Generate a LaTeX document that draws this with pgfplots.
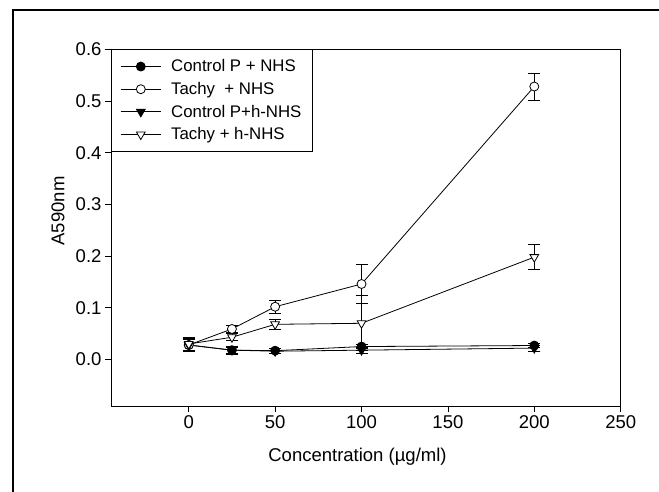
\documentclass[border=0pt]{standalone}
\usepackage{fontspec}
\setmainfont{Liberation Sans}
\usepackage{pgfplots}
\pgfplotsset{compat=1.18}
\begin{document}
\begin{tikzpicture}[x=1pt,y=1pt]
% page frame (left and top sides show)
\useasboundingbox (0,0) rectangle (659,491);
\draw[line width=1.5pt] (13,-5) -- (13,481) -- (665,481);
\begin{axis}[
    at={(111pt,85pt)}, anchor=south west,
    scale only axis,
    width=509.7pt, height=356.7pt,
    xmin=-45, xmax=250,
    ymin=-0.09, ymax=0.6,
    xtick={0,50,...,250},
    ytick={0,0.1,0.2,0.3,0.4,0.5,0.6},
    xtick pos=left, ytick pos=left,
    tick align=outside,
    major tick length=6pt,
    tick style={line width=0.8pt,black},
    axis line style={line width=1pt},
    yticklabel style={/pgf/number format/fixed,/pgf/number format/fixed zerofill,/pgf/number format/precision=1},
    /pgf/number format/assume math mode=true,
    ticklabel style={font=\fontsize{18.5}{20}\selectfont},
    scaled y ticks=false,
    xlabel={Concentration (µg/ml)},
    ylabel={A590nm},
    label style={font=\fontsize{18.5}{20}\selectfont},
    xlabel style={at={(axis description cs:0.4836,-0.108)},anchor=north},
    ylabel style={at={(axis description cs:-0.084,0.547)},anchor=south},
    every axis plot/.append style={line width=0.8pt,black},
    error bars/error bar style={line width=0.8pt,black},
    error bars/error mark options={rotate=90,mark size=6pt,line width=0.8pt,black},
    legend style={at={(0,1)},anchor=north west,draw=black,line width=0.8pt,
        font=\fontsize{16.8}{18}\selectfont,
        inner xsep=9pt,inner ysep=8pt,row sep=5pt,
        /tikz/every even column/.append style={column sep=9pt},
        /tikz/every odd column/.append style={column sep=8pt}},
    legend cell align=left,
    legend image code/.code={
        \draw[mark repeat=2,mark phase=2,#1] plot coordinates {(0pt,0pt) (20pt,0pt) (40pt,0pt)};},
]
% Control P + NHS
\addplot[mark=*,mark size=4.5pt,mark options={fill=black,solid},
    error bars/.cd,y dir=both,y explicit]
    coordinates {(0,0.028) +- (0,0.012) (25,0.018) +- (0,0.008) (50,0.017) +- (0,0.005) (100,0.025) +- (0,0.004) (200,0.027) +- (0,0.004)};
\addlegendentry{Control P + NHS}
% Tachy + NHS
\addplot[mark=*,mark size=4.5pt,mark options={fill=white,solid},
    error bars/.cd,y dir=both,y explicit]
    coordinates {(0,0.028) +- (0,0.013) (25,0.059) +- (0,0.006) (50,0.102) +- (0,0.012) (100,0.146) +- (0,0.037) (200,0.528) +- (0,0.026)};
\addlegendentry{Tachy\ \ + NHS}
% Control P+h-NHS
\addplot[mark=triangle*,mark size=5pt,mark options={fill=black,rotate=180,solid},
    error bars/.cd,y dir=both,y explicit]
    coordinates {(0,0.028) +- (0,0.010) (25,0.018) +- (0,0.006) (50,0.016) +- (0,0.005) (100,0.018) +- (0,0.006) (200,0.022) +- (0,0.006)};
\addlegendentry{Control P+h-NHS}
% Tachy + h-NHS
\addplot[mark=triangle*,mark size=5pt,mark options={fill=white,rotate=180,solid},
    error bars/.cd,y dir=both,y explicit]
    coordinates {(0,0.030) +- (0,0.012) (25,0.043) +- (0,0.007) (50,0.068) +- (0,0.010) (100,0.070) +- (0,0.053) (200,0.198) +- (0,0.024)};
\addlegendentry{Tachy + h-NHS}
\end{axis}
\end{tikzpicture}
\end{document}
